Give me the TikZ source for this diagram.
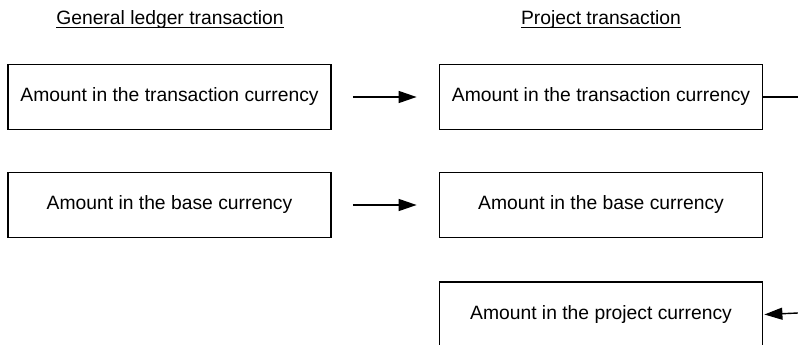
\documentclass[tikz,border=0pt]{standalone}
\usepackage{fontspec}
\setmainfont{Liberation Sans}
\usetikzlibrary{arrows.meta}

\tikzset{
  amountbox/.style={draw, line width=1.8pt, minimum width=323pt, minimum height=65pt,
    inner sep=0pt, font=\fontsize{19.3}{23}\selectfont},
  heading/.style={inner sep=0pt, anchor=base, font=\fontsize{19.3}{23}\selectfont},
  flow/.style={line width=1.4pt, -{Triangle[length=18pt,width=12pt]}}
}

\begin{document}
\begin{tikzpicture}[x=1pt,y=-1pt]
    \useasboundingbox (0,0) rectangle (798,345);
    \clip (0,0) rectangle (798,345);

    % Draw headings
    \node[heading] (glhead) at (170,25) {General ledger transaction};
    \draw[line width=0.9pt] ([yshift=-2.5pt]glhead.base west) -- ([yshift=-2.5pt]glhead.base east);
    \node[heading] (prhead) at (601,25) {Project transaction};
    \draw[line width=0.9pt] ([yshift=-2.5pt]prhead.base west) -- ([yshift=-2.5pt]prhead.base east);

    % General ledger side
    \node[amountbox] (gltrans) at (169.5,97) {Amount in the transaction currency};
    \node[amountbox] (glbase) at (169.5,205) {Amount in the base currency};

    % Project side
    \node[amountbox] (prtrans) at (601,97) {Amount in the transaction currency};
    \node[amountbox] (prbase) at (601,205) {Amount in the base currency};
    \node[amountbox] (prproj) at (601,314.5) {Amount in the project currency};

    \coordinate (outright) at (798,97);
    \coordinate (inright) at (798,313);

    % Draw arrows
    \draw[flow] ([xshift=21pt]gltrans.east) -- ([xshift=-22pt]prtrans.west);
    \draw[flow] ([xshift=21pt]glbase.east) -- ([xshift=-22pt]prbase.west);
    \draw[line width=1.4pt] (prtrans.east) -- (outright);
    \draw[flow] (inright) -- ([xshift=1pt]prproj.east);
  \end{tikzpicture}
\end{document}
